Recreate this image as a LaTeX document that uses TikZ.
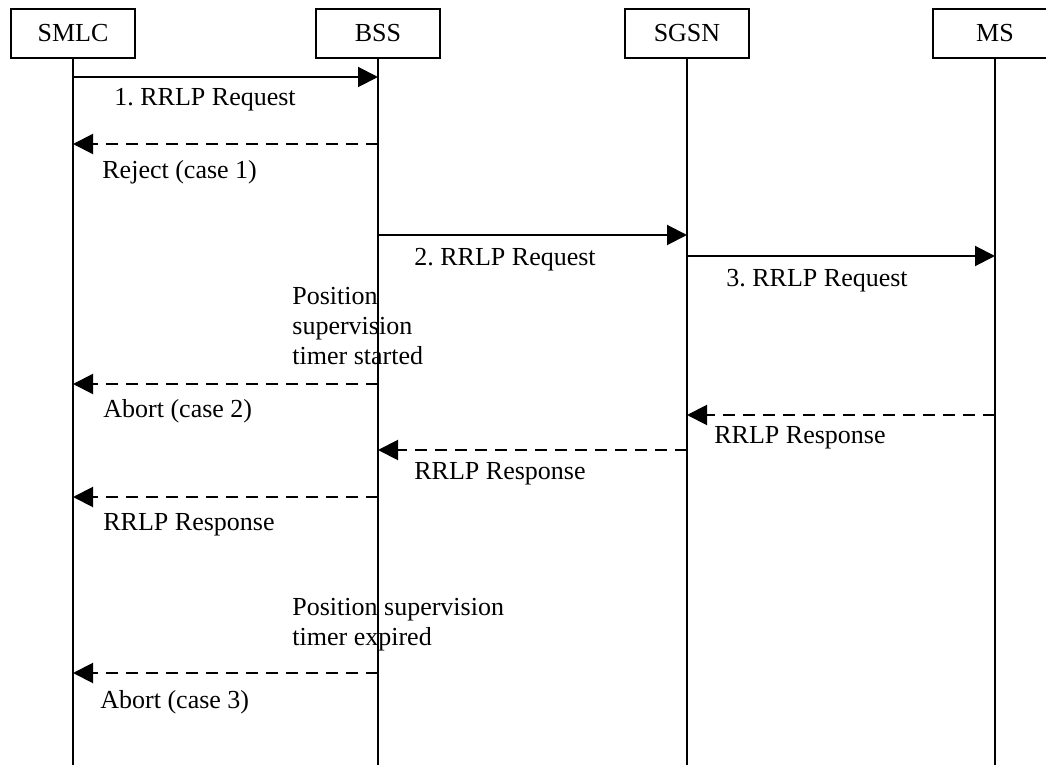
\documentclass[tikz,border=0pt]{standalone}
\usepackage{fontspec}
\setmainfont{Liberation Serif}
\usetikzlibrary{arrows.meta}
\frenchspacing

\begin{document}
\begin{tikzpicture}[x=0.5pt,y=-0.5pt,
    every node/.style={font=\fontsize{13}{15}\selectfont},
    entity/.style={draw,line width=0.7pt,minimum width=62pt,minimum height=24.5pt,inner sep=0pt},
    life/.style={line width=0.7pt},
    req/.style={-{Triangle[length=10pt,width=10pt]},line width=1pt},
    resp/.style={req,dash pattern=on 6pt off 4pt},
    lbl/.style={anchor=west,inner sep=0pt,align=left}]
    \useasboundingbox (0,0) rectangle (1046,765);
    \clip (0,0) rectangle (1046,765);
    % Define nodes
    \node[entity] (smlc) at (73,33.5) {SMLC};
    \node[entity] (bss) at (378,33.5) {BSS};
    \node[entity] (sgsn) at (687,33.5) {SGSN};
    \node[entity] (ms) at (995,33.5) {MS};

    % Lifelines
    \foreach \e in {smlc,bss,sgsn,ms} {
        \coordinate (\e-end) at (\e |- 0,770);
        \draw[life] (\e.south) -- (\e-end);
    }

    % Message rows
    \coordinate (m1) at (0,77);
    \coordinate (m2) at (0,144);
    \coordinate (m3) at (0,235);
    \coordinate (m4) at (0,256);
    \coordinate (m5) at (0,384);
    \coordinate (m6) at (0,415);
    \coordinate (m7) at (0,450);
    \coordinate (m8) at (0,497);
    \coordinate (m9) at (0,673);

    % Draw arrows with text under them
    \draw[req] (smlc |- m1) -- (bss |- m1);
    \node[lbl] (l1) at (114,100) {1. RRLP Request};
    \draw[resp] (bss |- m2) -- (smlc |- m2);
    \node[lbl] (l2) at (102,172) {Reject (case 1)};
    \draw[req] (bss |- m3) -- (sgsn |- m3);
    \node[lbl] (l3) at (414,260) {2. RRLP Request};
    \draw[req] (sgsn |- m4) -- (ms |- m4);
    \node[lbl] (l4) at (726,281) {3. RRLP Request};
    \node[lbl] (l5) at (292,326) {Position\\supervision\\timer started};
    \draw[resp] (bss |- m5) -- (smlc |- m5);
    \node[lbl] (l6) at (103,411) {Abort (case 2)};
    \draw[resp] (ms |- m6) -- (sgsn |- m6);
    \node[lbl] (l7) at (714,438) {RRLP Response};
    \draw[resp] (sgsn |- m7) -- (bss |- m7);
    \node[lbl] (l8) at (414,474) {RRLP Response};
    \draw[resp] (bss |- m8) -- (smlc |- m8);
    \node[lbl] (l9) at (103,525) {RRLP Response};
    \node[lbl] (l10) at (292,625) {Position supervision\\timer expired};
    \draw[resp] (bss |- m9) -- (smlc |- m9);
    \node[lbl] (l11) at (100,702) {Abort (case 3)};
\end{tikzpicture}
\end{document}
